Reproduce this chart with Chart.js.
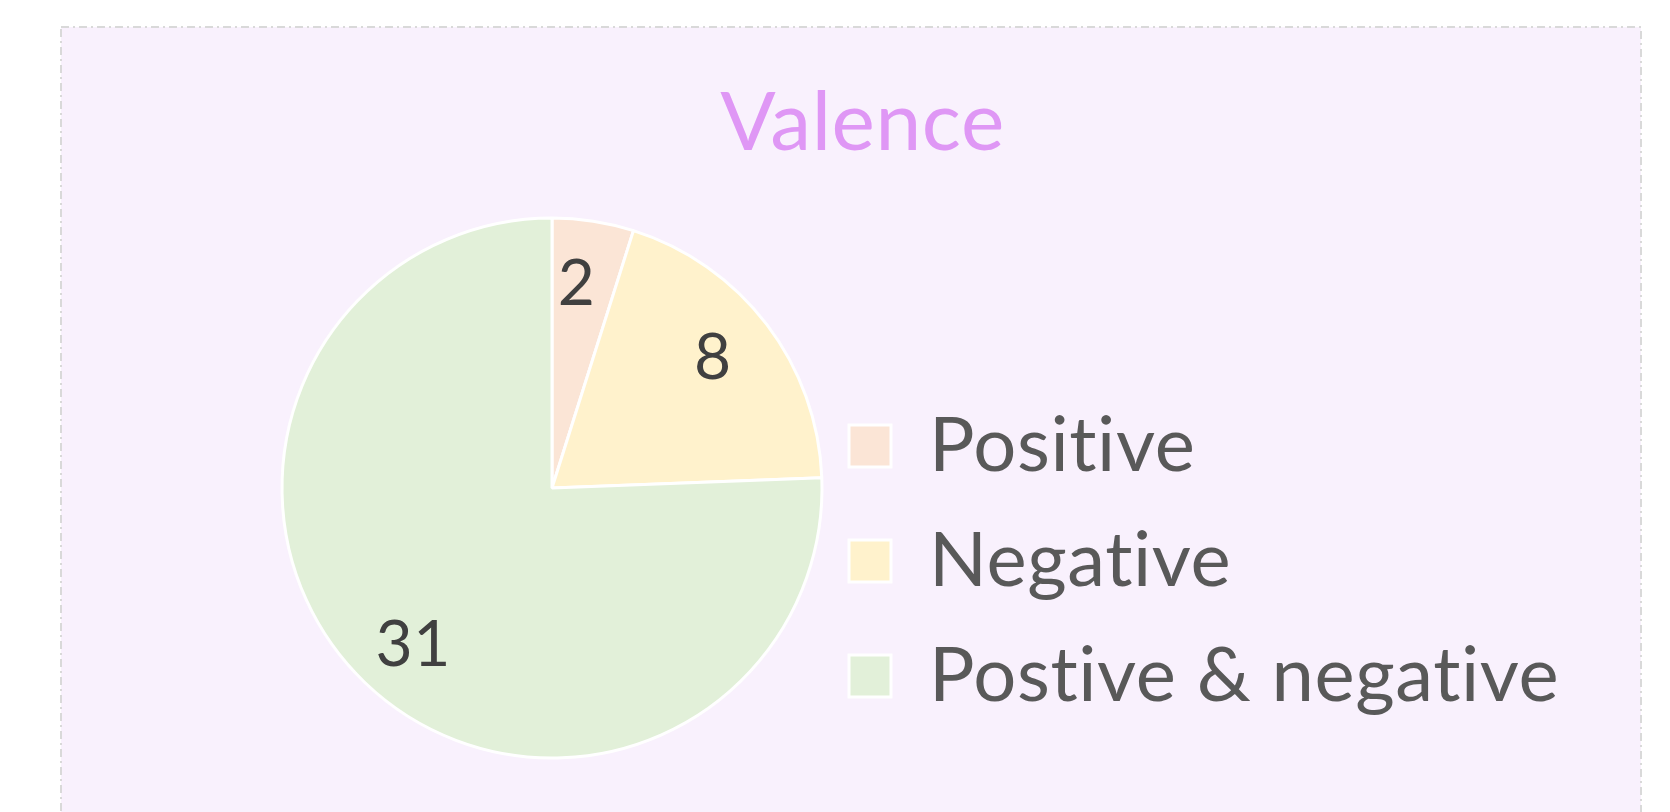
<!DOCTYPE html>
<html>
<head>
<meta charset="utf-8">
<title>Valence</title>
<script src="https://cdn.jsdelivr.net/npm/chart.js@4.4.1/dist/chart.umd.min.js"></script>
<style>
  html, body { margin: 0; padding: 0; background: #ffffff; }
  #wrap { width: 1670px; height: 812px; position: relative; }
</style>
</head>
<body>
<div id="wrap"><canvas id="valence_chart"></canvas></div>
<script>
// values
const categories = ["Positive", "Negative", "Postive & negative"];
const counts = [2, 8, 31];
const sliceColors = ["#fbe5d6", "#fff2cc", "#e2f0d9"];

const fontName = "Lato";

// light lavender panel with a dash-dot frame behind everything
const panelPlugin = {
  id: "panel",
  afterLayout(chart) {
    // let the legend text run past the legend box instead of being clipped
    chart.legend.right = chart.width;
    chart.legend.width = chart.legend.right - chart.legend.left;
  },
  beforeDraw(chart) {
    const ctx = chart.ctx;
    // a tiny letter spacing stops Lato from joining "ti" into a ligature
    ctx.letterSpacing = "0.6px";
    ctx.save();
    ctx.fillStyle = "#f9f1fd";
    ctx.fillRect(61, 27, 1580, 810);
    ctx.strokeStyle = "#d9d9d9";
    ctx.lineWidth = 2;
    ctx.setLineDash([8, 4, 2, 4]);
    ctx.strokeRect(61, 27, 1580, 810);
    ctx.restore();
  }
};

// numbers inside the slices
const sliceLabels = {
  id: "sliceLabels",
  afterDatasetsDraw(chart) {
    const ctx = chart.ctx;
    const meta = chart.getDatasetMeta(0);
    ctx.save();
    ctx.fillStyle = "#404040";
    ctx.font = "64px " + fontName;
    ctx.textAlign = "center";
    ctx.textBaseline = "alphabetic";
    meta.data.forEach((arc, i) => {
      const p = arc.getProps(["x", "y", "startAngle", "endAngle", "outerRadius"], true);
      const mid = (p.startAngle + p.endAngle) / 2 - 0.035;
      const r = p.outerRadius * 0.77;
      const x = p.x + Math.cos(mid) * r;
      const y = p.y + Math.sin(mid) * r;
      ctx.fillText(String(chart.data.datasets[0].data[i]), x, y + 23);
    });
    ctx.restore();
  }
};

let valence_chart = new Chart("valence_chart", {
  type: "pie",
  data: {
    labels: categories,
    datasets: [{
      data: counts,
      backgroundColor: sliceColors,
      borderColor: "#ffffff",
      borderWidth: 3,
      clip: false
    }]
  },
  options: {
    responsive: true,
    maintainAspectRatio: false,
    animation: false,
    radius: 270,
    layout: {
      padding: { left: 294, right: 239, top: 0, bottom: 59 }
    },
    plugins: {
      title: {
        display: true,
        text: "Valence",
        color: "#df97f5",
        font: { family: fontName, size: 82, weight: "normal" },
        padding: { top: 74.8, bottom: 49.8 }
      },
      legend: {
        position: "right",
        align: "end",
        fullSize: false,
        maxWidth: 621,
        labels: {
          color: "#595959",
          font: { family: fontName, size: 76 },
          boxWidth: 42,
          boxHeight: 42,
          padding: 39
        }
      },
      tooltip: { enabled: false }
    }
  },
  plugins: [panelPlugin, sliceLabels]
});
</script>
</body>
</html>
